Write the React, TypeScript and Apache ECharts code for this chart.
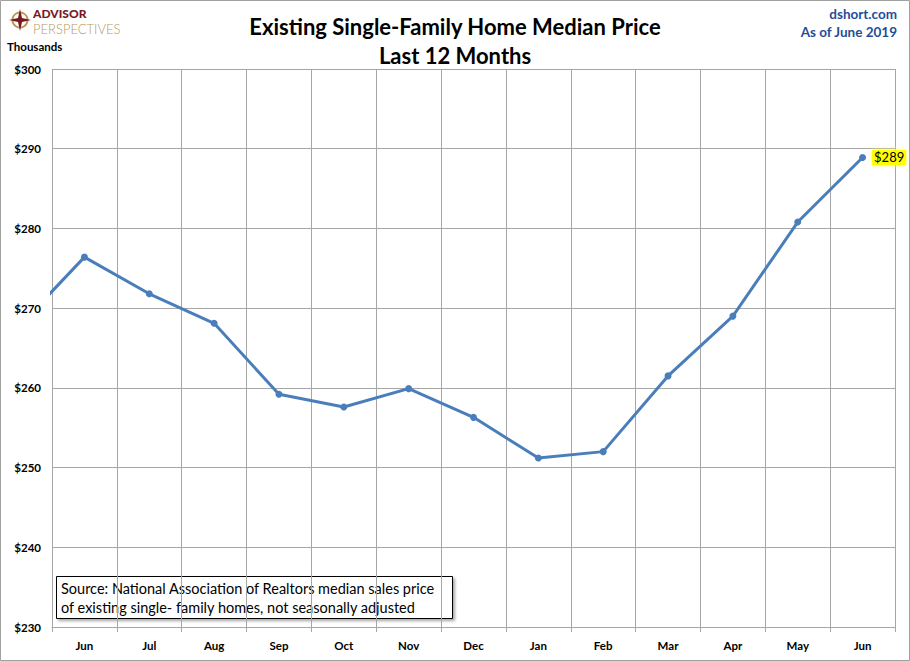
import React, { useEffect, useRef } from "react";
import * as echarts from "echarts";

// Jun 2018 .. Jun 2019, thousands of dollars
const months = ["Jun", "Jul", "Aug", "Sep", "Oct", "Nov", "Dec", "Jan", "Feb", "Mar", "Apr", "May", "Jun"];
const prices = [276.4, 271.8, 268.1, 259.2, 257.6, 259.9, 256.3, 251.2, 252.0, 261.5, 269.0, 280.8, 288.9];
// May 2018, only the segment leading into Jun shows at the left edge
const priorPrice = 267.8;
const lastLabel = "$289";

const FONT = "Lato, 'Open Sans', sans-serif";
const BLUE = "#4a7ebb";

const App = () => {
  const chartRef = useRef<HTMLDivElement>(null);

  useEffect(() => {
    if (!chartRef.current) return;
    const chart = echarts.init(chartRef.current, undefined, { renderer: "svg" });

    const lineData: any[] = [[-1, priorPrice]];
    prices.forEach((v, i) => {
      if (i === prices.length - 1) {
        lineData.push({
          value: [i, v],
          label: {
            show: true,
            position: "right",
            formatter: lastLabel,
            backgroundColor: "#ffff00",
            color: "#000",
            fontFamily: FONT,
            fontSize: 13,
            padding: [1, 2],
            distance: 6,
            shadowColor: "#ffff66",
            shadowBlur: 4,
          },
        });
      } else {
        lineData.push([i, v]);
      }
    });

    const option: echarts.EChartsOption = {
      animation: false,
      backgroundColor: "#fff",
      textStyle: { fontFamily: FONT },
      grid: { left: 52, right: 15, top: 69, bottom: 34 },
      xAxis: [
        {
          type: "category",
          data: months,
          boundaryGap: true,
          axisLine: { lineStyle: { color: "#a6a6a6" } },
          axisTick: { show: true, length: 5, lineStyle: { color: "#a6a6a6" } },
          axisLabel: { color: "#000", fontWeight: "bold", fontSize: 11.5, margin: 12, fontFamily: FONT },
          splitLine: { show: true, lineStyle: { color: "#a6a6a6", width: 1 } },
        },
        {
          type: "value",
          min: -0.5,
          max: 12.5,
          show: false,
        },
      ],
      yAxis: {
        type: "value",
        min: 230,
        max: 300,
        interval: 10,
        axisLine: { show: false },
        axisTick: { show: false },
        axisLabel: {
          color: "#000",
          fontWeight: "bold",
          fontSize: 11.5,
          margin: 11,
          fontFamily: FONT,
          formatter: (v: number) => "$" + v,
        },
        splitLine: { lineStyle: { color: "#a6a6a6", width: 1 } },
      },
      series: [
        {
          type: "line",
          xAxisIndex: 1,
          data: lineData,
          clip: true,
          symbol: "circle",
          symbolSize: 7,
          lineStyle: { color: BLUE, width: 3 },
          itemStyle: { color: BLUE },
        },
      ],
      graphic: [
        {
          type: "rect",
          shape: { x: 0.5, y: 0.5, width: 909, height: 660 },
          style: { fill: "none", stroke: "#a0a0a0", lineWidth: 1 },
          silent: true,
        },
        // logo
        {
          type: "circle",
          shape: { cx: 20, cy: 20, r: 7.5 },
          style: { fill: "none", stroke: "#b8995a", lineWidth: 2 },
        },
        {
          type: "polygon",
          shape: {
            points: [
              [20, 9], [22, 18], [31, 20], [22, 22], [20, 31], [18, 22], [9, 20], [18, 18],
            ],
          },
          style: { fill: "#7a1a1f" },
        },
        {
          type: "text",
          x: 33,
          y: 13.5,
          style: {
            text: "ADVISOR",
            fill: "#7a1a1f",
            font: `900 12px ${FONT}`,
            verticalAlign: "middle",
          },
        },
        {
          type: "text",
          x: 33,
          y: 29,
          style: {
            text: "PERSPECTIVES",
            fill: "#b8995a",
            font: `300 13px ${FONT}`,
            verticalAlign: "middle",
          },
        },
        {
          type: "text",
          x: 7,
          y: 46,
          style: { text: "Thousands", fill: "#000", font: `bold 11.5px ${FONT}`, verticalAlign: "middle" },
        },
        // title
        {
          type: "text",
          x: 455,
          y: 26,
          style: {
            text: "Existing Single-Family Home Median Price",
            fill: "#000",
            font: `bold 22px ${FONT}`,
            align: "center",
            verticalAlign: "middle",
          },
        },
        {
          type: "text",
          x: 455,
          y: 55,
          style: {
            text: "Last 12 Months",
            fill: "#000",
            font: `bold 22px ${FONT}`,
            align: "center",
            verticalAlign: "middle",
          },
        },
        {
          type: "text",
          x: 897,
          y: 14,
          style: {
            text: "dshort.com",
            fill: "#1f4e99",
            font: `bold 13.5px ${FONT}`,
            align: "right",
            verticalAlign: "middle",
          },
        },
        {
          type: "text",
          x: 897,
          y: 32,
          style: {
            text: "As of June 2019",
            fill: "#1f4e99",
            font: `bold 13.5px ${FONT}`,
            align: "right",
            verticalAlign: "middle",
          },
        },
        // source note
        {
          type: "rect",
          shape: { x: 56.5, y: 576.5, width: 396, height: 42 },
          style: {
            fill: "#fff",
            stroke: "#000",
            lineWidth: 1,
            shadowColor: "rgba(0,0,0,0.35)",
            shadowBlur: 3,
            shadowOffsetX: 2,
            shadowOffsetY: 2,
          },
        },
        {
          type: "text",
          x: 61,
          y: 588,
          style: {
            text: "Source: National Association of Realtors median sales price",
            fill: "#000",
            font: `14.5px ${FONT}`,
            verticalAlign: "middle",
          },
        },
        {
          type: "text",
          x: 61,
          y: 607,
          style: {
            text: "of existing single- family homes, not seasonally adjusted",
            fill: "#000",
            font: `14.5px ${FONT}`,
            verticalAlign: "middle",
          },
        },
      ],
    };

    chart.setOption(option);
    return () => chart.dispose();
  }, []);

  return (
    <div
      ref={chartRef}
      style={{ position: "absolute", left: 0, top: 0, width: 910, height: 661 }}
    />
  );
};

export default App;
